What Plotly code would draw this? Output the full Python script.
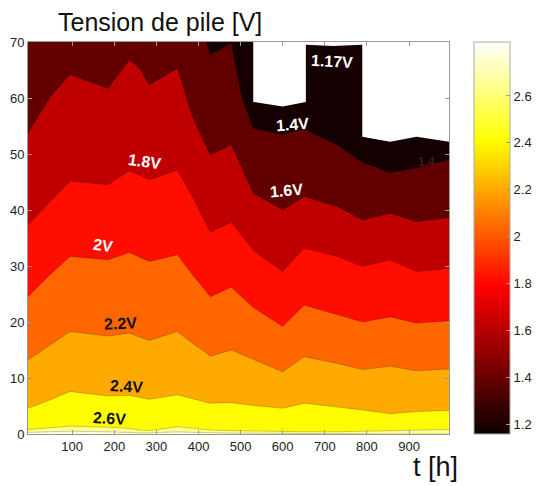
import plotly.graph_objects as go

# ---------------- data ----------------
# time samples (h) at which the iso-voltage boundaries were read
T = [-5, 48, 95, 185, 236, 260, 283, 350, 385, 418, 428, 478, 530, 600, 651, 730, 790, 855, 918, 995]

# value on the y axis where the stack voltage equals each level
I_16 = [53.7, 60.2, 64.2, 61.7, 66.8, 65.3, 62.3, 65.3, 56.7, 51.5, 49.8, 51.6, 43.0, 40.0, 42.4, 40.6, 38.2, 39.4, 37.9, 38.6]
I_18 = [37.3, 41.5, 45.2, 44.5, 47.0, 46.2, 45.4, 47.1, 42.5, 37.5, 36.0, 37.8, 32.8, 29.0, 33.2, 31.7, 29.9, 31.1, 29.0, 29.6]
I_20 = [24.5, 28.5, 31.7, 31.1, 32.4, 31.6, 30.8, 32.0, 28.5, 25.5, 24.5, 26.2, 22.6, 19.2, 23.0, 21.3, 20.0, 20.9, 19.8, 20.2]
I_22 = [13.2, 15.9, 18.3, 17.5, 18.0, 17.3, 16.7, 18.3, 16.2, 14.5, 13.9, 15.0, 13.3, 11.1, 13.8, 12.6, 11.5, 12.1, 11.3, 11.6]
I_24 = [4.6, 6.1, 7.6, 6.8, 6.9, 6.5, 6.2, 7.0, 6.3, 5.7, 5.5, 5.6, 5.1, 4.6, 5.5, 4.8, 4.3, 3.6, 4.0, 4.2]
I_26 = [0.8, 1.1, 1.4, 1.2, 1.0, 0.7, 0.6, 1.3, 1.0, 0.8, 0.7, 0.6, 0.5, 0.4, 0.4, 0.4, 0.5, 0.6, 0.7, 0.8]
I_28 = [0.3, 0.4, 0.5, 0.4, 0.2, 0.2, 0.2, 0.4, 0.3, 0.2, 0.2, 0.15, 0.15, 0.1, 0.05, 0.0, 0.0, 0.0, 0.0, 0.0]

# 1.4 V boundary (black region lies above it)
T_14 = [-5, 418, 428, 478, 503, 530, 600, 651, 730, 790, 855, 918, 995]
I_14 = [71, 70.2, 67.7, 69.8, 60.0, 54.6, 53.5, 54.4, 51.6, 48.5, 46.7, 47.5, 49.0]

# limit of the measured domain (no data above it -> white)
T_NAN = [-5, 530, 530, 600, 655, 655, 720, 789, 789, 855, 918, 995]
I_NAN = [70, 70, 59.3, 58.5, 59.3, 69.5, 69.3, 69.5, 53.1, 52.2, 53.1, 52.2]

Y_TOP = 70
LEVELS = ["<1.4", "1.4", "1.6", "1.8", "2.0", "2.2", "2.4", "2.6", "2.8"]
BAND_COLORS = ["rgb(20,0,0)", "rgb(98,0,0)", "rgb(192,0,0)", "rgb(255,14,0)",
               "rgb(255,102,0)", "rgb(255,170,0)", "rgb(255,252,0)",
               "rgb(255,255,150)", "rgb(255,255,215)"]

X_TICKS = [100, 200, 300, 400, 500, 600, 700, 800, 900]
Y_TICKS = [0, 10, 20, 30, 40, 50, 60, 70]
CB_MIN, CB_MAX = 1.16, 2.83
CB_TICKS = [1.2, 1.4, 1.6, 1.8, 2.0, 2.2, 2.4, 2.6]
CB_TEXT = ["1.2", "1.4", "1.6", "1.8", "2", "2.2", "2.4", "2.6"]

# contour labels: (text, t, y, colour, angle)
LABELS = [
    ("1.17V", 718, 66.5, "white", 3),
    ("1.4V", 624, 55.2, "white", -4),
    ("1.6V", 610, 43.4, "white", -5),
    ("1.8V", 272, 48.6, "white", 8),
    ("2V", 174, 33.6, "white", 8),
    ("2.2V", 215, 19.8, "#111", -3),
    ("2.4V", 230, 8.45, "#111", 3),
    ("2.6V", 189, 2.8, "#111", 3),
]

FONT = "Liberation Sans, Arial, sans-serif"
EDGE = "rgba(0,0,0,0.35)"

fig = go.Figure()

curves = [
    (T, [Y_TOP] * len(T)),
    (T_14, I_14),
    (T, I_16),
    (T, I_18),
    (T, I_20),
    (T, I_22),
    (T, I_24),
    (T, I_26),
    (T, I_28),
]
for k, ((xs, ys), col) in enumerate(zip(curves, BAND_COLORS)):
    fig.add_trace(go.Scatter(
        x=xs, y=ys, mode="lines", fill="tozeroy", fillcolor=col,
        line=dict(color=EDGE, width=0 if k == 0 else 0.6),
        showlegend=False, hoverinfo="skip"))

# white region where no data were measured
fig.add_trace(go.Scatter(x=T_NAN, y=[Y_TOP + 2] * len(T_NAN), mode="lines",
                         line=dict(width=0), showlegend=False, hoverinfo="skip"))
fig.add_trace(go.Scatter(x=T_NAN, y=I_NAN, mode="lines", fill="tonexty",
                         fillcolor="white", line=dict(width=0),
                         showlegend=False, hoverinfo="skip"))

hot = [[0.0, "rgb(11,0,0)"], [0.375, "rgb(255,0,0)"],
       [0.75, "rgb(255,255,0)"], [1.0, "rgb(255,255,255)"]]

# colour bar
fig.add_trace(go.Scatter(
    x=[None, None], y=[None, None], mode="markers",
    marker=dict(color=[CB_MIN, CB_MAX], cmin=CB_MIN, cmax=CB_MAX,
                colorscale=hot, showscale=True,
                colorbar=dict(x=(479 - 28) / 426, xanchor="left", y=0.5,
                              yanchor="middle", len=1, lenmode="fraction",
                              thickness=36, thicknessmode="pixels",
                              outlinewidth=1, outlinecolor="#aaaaaa",
                              xpad=0, ypad=0,
                              tickvals=CB_TICKS, ticktext=CB_TEXT,
                              ticks="inside", ticklen=4, tickcolor="#999999",
                              tickfont=dict(family=FONT, size=13, color="#222"))),
    showlegend=False, hoverinfo="skip"))

for text, tx, ty, col, ang in LABELS:
    fig.add_annotation(x=tx, y=ty, xref="x", yref="y", text="<b>%s</b>" % text,
                       showarrow=False, textangle=ang,
                       font=dict(family=FONT, size=16, color=col))
fig.add_annotation(x=941, y=48.6, xref="x", yref="y", text="<b>1.4</b>",
                   showarrow=False, font=dict(family=FONT, size=12, color="#4a1616"))

fig.add_annotation(x=(162 - 28) / 426, y=(434 - 22) / 392, xref="paper", yref="paper",
                   text="Tension de pile [V]", showarrow=False, xanchor="center",
                   yanchor="middle", font=dict(family=FONT, size=25, color="#111"))
fig.add_annotation(x=(440 - 28) / 426, y=(434 - 467) / 392, xref="paper", yref="paper",
                   text="t [h]", showarrow=False, xanchor="center",
                   yanchor="middle", font=dict(family=FONT, size=27, color="#111"))

axis_common = dict(showgrid=False, zeroline=False, showline=True, linecolor="#999999",
                   linewidth=1, mirror="ticks", ticks="inside", ticklen=4,
                   tickcolor="#999999", automargin=False,
                   tickfont=dict(family=FONT, size=13, color="#222"))
# the page body adds an 8 px offset, so the figure is 8 px smaller on each side
fig.update_layout(
    width=540, height=478,
    margin=dict(l=20, r=94, t=34, b=52),
    paper_bgcolor="white", plot_bgcolor="white",
    xaxis=dict(range=[-5, 995], tickvals=X_TICKS, **axis_common),
    yaxis=dict(range=[0, 70], tickvals=Y_TICKS, **axis_common),
    showlegend=False,
)

fig.write_html("out.html")
